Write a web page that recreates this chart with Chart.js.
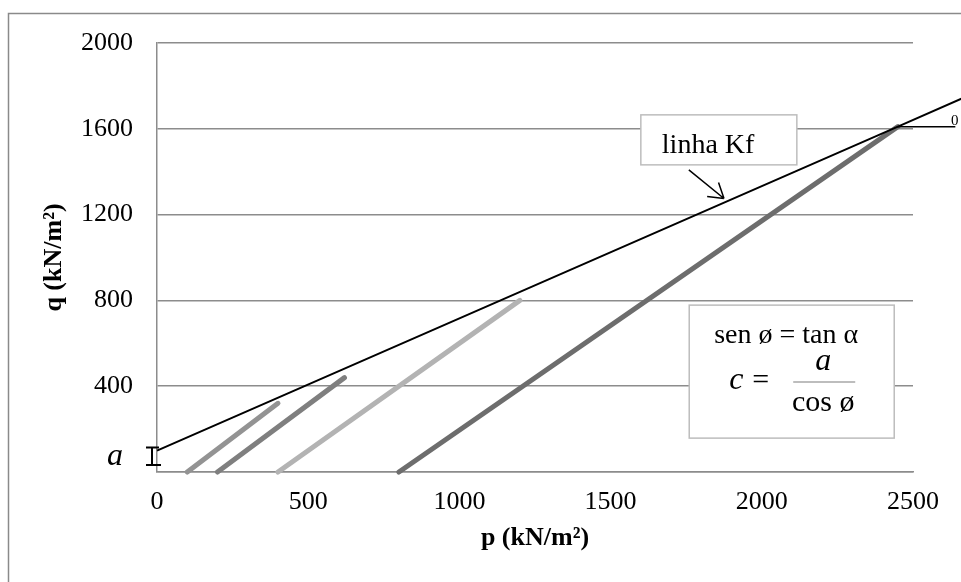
<!DOCTYPE html>
<html>
<head>
<meta charset="utf-8">
<script src="https://cdn.jsdelivr.net/npm/chart.js@4.4.1/dist/chart.umd.min.js"></script>
<style>
  html, body { margin: 0; padding: 0; background: #fff; }
  canvas { display: block; }
</style>
</head>
<body>
<canvas id="chart" width="961" height="582"></canvas>
<script>
// eixos p-q (kN/m²)
const pTicks = [0, 500, 1000, 1500, 2000, 2500];
const qTicks = [0, 400, 800, 1200, 1600, 2000];

// linha Kf: intercepto a em p = 0, passa pelo ponto de ruptura
const kfP = [0, 2450, 2660];
const kfQ = [100, 1610, 1740];
const aValue = 100;

// trajetórias de tensão (início, fim)
const pathP = [[100, 400], [200, 620], [400, 1200], [800, 2450]];
const pathQ = [[0, 320], [0, 440], [0, 800], [0, 1610]];

// horizontal de referência no ponto de ruptura
const refP = [2450, 2640];
const refQ = [1610, 1610];

const pathColors = ['#939393', '#7f7f7f', '#b3b3b3', '#6d6d6d'];
const serif = "'Liberation Serif', 'Times New Roman', serif";

const toPoints = (xs, ys) => xs.map((v, i) => ({ x: v, y: ys[i] }));

const datasets = [
  {
    data: toPoints(kfP, kfQ),
    borderColor: '#000',
    borderWidth: 2,
    order: 0,
    clip: false
  },
  {
    data: toPoints(refP, refQ),
    borderColor: '#000',
    borderWidth: 1.5,
    order: 0,
    clip: false
  }
];
pathP.forEach((ps, i) => {
  datasets.push({
    data: toPoints(ps, pathQ[i]),
    borderColor: pathColors[i],
    borderWidth: 5,
    borderCapStyle: 'round',
    order: 1,
    clip: false
  });
});

function box(ctx, x, y, w, h) {
  ctx.fillStyle = '#fff';
  ctx.fillRect(x, y, w, h);
  ctx.strokeStyle = '#bdbdbd';
  ctx.lineWidth = 1.5;
  ctx.strokeRect(x, y, w, h);
}

const notes = {
  id: 'notes',
  beforeDraw(chart) {
    const { ctx, width, height } = chart;
    ctx.save();
    ctx.fillStyle = '#fff';
    ctx.fillRect(0, 0, width, height);
    ctx.strokeStyle = '#8a8a8a';
    ctx.lineWidth = 1.5;
    ctx.strokeRect(8.5, 13.5, width + 40, height + 40);
    ctx.restore();
  },
  afterDatasetsDraw(chart) {
    const { ctx, chartArea, scales: { x, y } } = chart;
    ctx.save();

    // cota do intercepto a (no lugar do rótulo 0 do eixo q)
    const bx = chartArea.left - 5;
    const top = y.getPixelForValue(aValue) - 3;
    const bot = y.getPixelForValue(0) - 7;
    ctx.strokeStyle = '#000';
    ctx.lineWidth = 2;
    ctx.beginPath();
    ctx.moveTo(bx, top); ctx.lineTo(bx, bot);
    ctx.moveTo(bx - 6, top); ctx.lineTo(bx + 7, top);
    ctx.moveTo(bx - 6, bot); ctx.lineTo(bx + 9, bot);
    ctx.stroke();
    ctx.fillStyle = '#000';
    ctx.font = 'italic 32px ' + serif;
    ctx.textAlign = 'center';
    ctx.textBaseline = 'alphabetic';
    ctx.fillText('a', 115, bot);

    // caixa "linha Kf" com seta
    const kx = x.getPixelForValue(1600);
    const ky = y.getPixelForValue(1665);
    box(ctx, kx, ky, 156, 50);
    ctx.fillStyle = '#000';
    ctx.font = '28px ' + serif;
    ctx.textAlign = 'left';
    ctx.fillText('linha Kf', kx + 21, ky + 38);

    const sx = kx + 48, sy = ky + 55;
    const tx = x.getPixelForValue(1875), ty = y.getPixelForValue(1275);
    const ang = Math.atan2(ty - sy, tx - sx);
    ctx.strokeStyle = '#000';
    ctx.lineWidth = 1.5;
    ctx.beginPath();
    ctx.moveTo(sx, sy); ctx.lineTo(tx, ty);
    [-0.56, 0.56].forEach(d => {
      ctx.moveTo(tx, ty);
      ctx.lineTo(tx - 17 * Math.cos(ang + d), ty - 17 * Math.sin(ang + d));
    });
    ctx.stroke();

    // rótulo no ponto de ruptura
    ctx.font = '15px ' + serif;
    ctx.fillText('0', 951, y.getPixelForValue(refQ[0]) - 2);

    // caixa das relações
    const fx = x.getPixelForValue(1760);
    const fy = y.getPixelForValue(778);
    box(ctx, fx, fy, 205, 133);
    ctx.fillStyle = '#000';
    ctx.textAlign = 'center';
    ctx.font = '28px ' + serif;
    ctx.fillText('sen ø = tan α', fx + 97, fy + 38);

    ctx.textAlign = 'left';
    ctx.font = 'italic 32px ' + serif;
    ctx.fillText('c', fx + 40, fy + 84);
    ctx.font = '30px ' + serif;
    ctx.fillText('=', fx + 63, fy + 84);

    ctx.textAlign = 'center';
    ctx.font = 'italic 32px ' + serif;
    ctx.fillText('a', fx + 134, fy + 65);
    ctx.lineWidth = 2;
    ctx.beginPath();
    ctx.moveTo(fx + 104, fy + 77);
    ctx.lineTo(fx + 166, fy + 77);
    ctx.stroke();
    ctx.font = '30px ' + serif;
    ctx.fillText('cos ø', fx + 134, fy + 106);

    ctx.restore();
  }
};

new Chart(document.getElementById('chart'), {
  type: 'line',
  data: { datasets },
  options: {
    responsive: false,
    animation: false,
    devicePixelRatio: 1,
    layout: { padding: { left: 0, top: 43, right: 48, bottom: 0 } },
    plugins: { legend: { display: false }, tooltip: { enabled: false } },
    elements: { point: { radius: 0 }, line: { tension: 0 } },
    scales: {
      x: {
        type: 'linear',
        min: 0,
        max: 2500,
        afterBuildTicks: s => { s.ticks = pTicks.map(v => ({ value: v })); },
        afterFit: s => { s.height = 110; },
        grid: { display: false, drawTicks: false },
        border: { color: '#8c8c8c', width: 1.5 },
        ticks: {
          color: '#000',
          padding: 15,
          maxRotation: 0,
          autoSkip: false,
          font: { family: serif, size: 26 },
          callback: v => String(v)
        },
        title: {
          display: true,
          text: 'p (kN/m²)',
          color: '#000',
          font: { family: serif, size: 26, weight: 'bold' },
          padding: { top: 0, bottom: 28 }
        }
      },
      y: {
        type: 'linear',
        min: 0,
        max: 2000,
        afterBuildTicks: s => { s.ticks = qTicks.map(v => ({ value: v })); },
        afterFit: s => { s.width = 157; },
        grid: { color: '#8c8c8c', lineWidth: 1.5, drawTicks: false },
        border: { color: '#8c8c8c', width: 1.5 },
        ticks: {
          color: '#000',
          padding: 24,
          font: { family: serif, size: 26 },
          callback: v => (v === 0 ? '' : String(v))
        },
        title: {
          display: true,
          text: 'q (kN/m²)',
          color: '#000',
          font: { family: serif, size: 26, weight: 'bold' },
          padding: { top: 39, bottom: 0 }
        }
      }
    }
  },
  plugins: [notes]
});
</script>
</body>
</html>
